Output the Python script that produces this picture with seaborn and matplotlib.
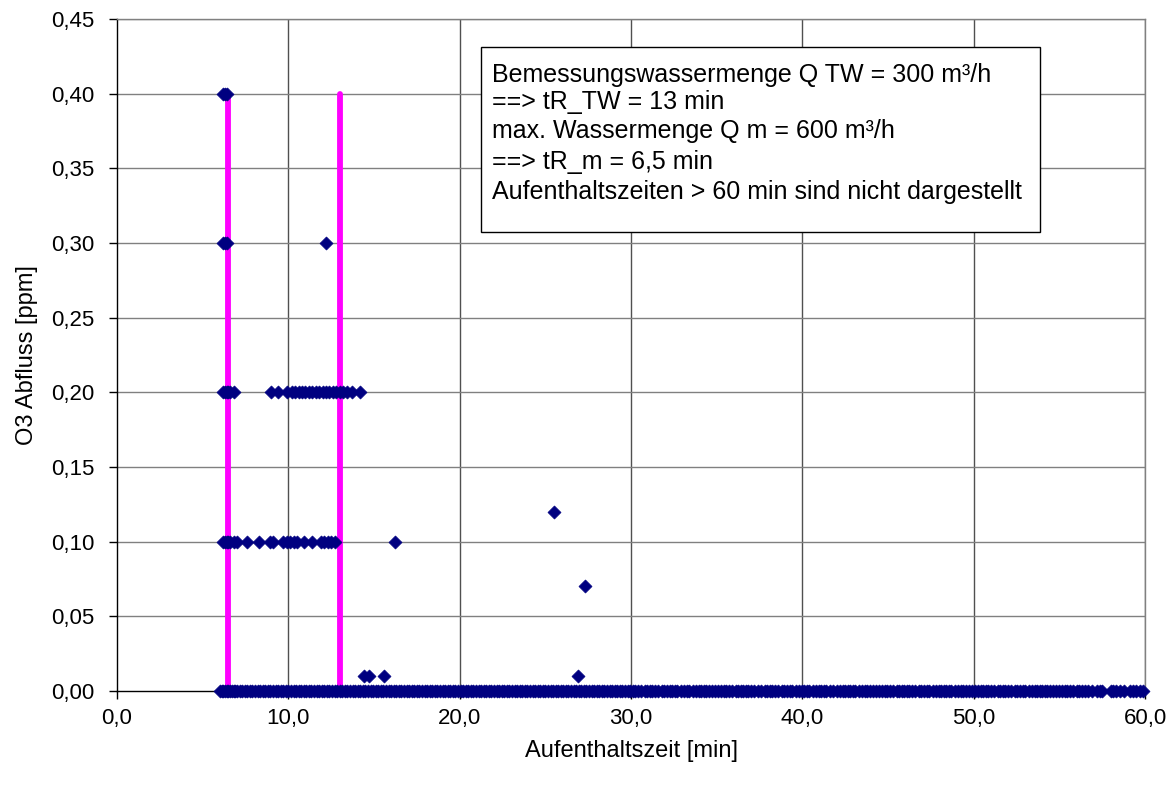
import matplotlib
matplotlib.use("Agg")
import matplotlib.pyplot as plt
from matplotlib.patches import Rectangle
import seaborn as sns
import pandas as pd

# ---- data ----
x_040 = [6.2, 6.3, 6.4]
x_030 = [6.2, 6.3, 6.4, 12.2]
x_020 = [6.2, 6.3, 6.4, 6.5, 6.6, 6.8, 9.0, 9.4, 9.9, 10.2, 10.4, 10.6, 10.8,
         11.0, 11.2, 11.4, 11.6, 11.8, 12.0, 12.2, 12.4, 12.6, 12.8, 13.0,
         13.2, 13.4, 13.7, 14.2]
x_010 = [6.2, 6.3, 6.4, 6.5, 6.6, 6.8, 7.0, 7.6, 8.3, 8.9, 9.1, 9.7, 9.9,
         10.1, 10.3, 10.5, 10.9, 11.4, 11.9, 12.1, 12.3, 12.5, 12.7, 16.2]
x_012 = [25.5]
x_007 = [27.3]
x_001 = [14.4, 14.7, 15.6, 26.9]
x_000 = [6.0, 6.2, 6.4, 6.6, 6.8, 7.0, 7.3, 7.6, 7.9, 8.2, 8.5, 8.8, 9.1, 9.4,
         9.7, 10.0, 10.3, 10.6, 10.9, 11.2, 11.5, 11.8, 12.1, 12.4, 12.7, 13.0,
         13.3, 13.6, 13.9, 14.2, 14.5, 14.8, 15.1, 15.4, 15.7, 16.0, 16.3, 16.6,
         16.9, 17.2, 17.5, 17.8, 18.1, 18.4, 18.7, 19.0, 19.3, 19.6, 19.9, 20.2,
         20.5, 20.8, 21.1, 21.4, 21.7, 22.0, 22.3, 22.6, 22.9, 23.2, 23.5, 23.8,
         24.1, 24.4, 24.7, 25.0, 25.3, 25.6, 25.9, 26.2, 26.5, 26.8, 27.1, 27.4,
         27.7, 28.0, 28.3, 28.6, 28.9, 29.2, 29.5, 29.8, 30.1, 30.4, 30.8, 31.1,
         31.4, 31.8, 32.1, 32.4, 32.7, 33.1, 33.4, 33.8, 34.1, 34.4, 34.7, 35.1,
         35.4, 35.7, 36.1, 36.4, 36.7, 37.0, 37.4, 37.8, 38.1, 38.4, 38.8, 39.1,
         39.4, 39.8, 40.1, 40.4, 40.8, 41.1, 41.4, 41.8, 42.2, 42.5, 42.8, 43.1,
         43.5, 43.8, 44.1, 44.5, 44.8, 45.1, 45.5, 45.8, 46.1, 46.4, 46.8, 47.1,
         47.4, 47.8, 48.1, 48.4, 48.7, 49.1, 49.4, 49.7, 50.1, 50.4, 50.7, 51.0,
         51.4, 51.7, 52.0, 52.4, 52.7, 53.0, 53.4, 53.7, 54.0, 54.3, 54.6, 55.0,
         55.3, 55.6, 56.0, 56.3, 56.7, 57.2, 57.5, 58.0, 58.3, 58.8, 59.1, 59.5,
         59.9]
x_000b = [6.1, 6.3, 6.5, 6.7, 6.9, 7.15, 7.45, 7.75, 8.05, 8.35, 8.65, 8.95,
          9.25, 9.55, 9.85, 10.15, 10.45, 10.75, 11.05, 11.35, 11.65, 11.95,
          12.25, 12.55, 12.85, 13.15, 13.45, 13.75, 14.05, 14.35, 14.65, 14.95,
          15.25, 15.55, 15.85, 16.15, 16.45, 16.75, 17.05, 17.35, 17.65, 17.95,
          18.25, 18.55, 18.85, 19.15, 19.45, 19.75, 20.05, 20.35, 20.65, 20.95,
          21.25, 21.55, 21.85, 22.15, 22.45, 22.75, 23.05, 23.35, 23.65, 23.95,
          24.25, 24.55, 24.85, 25.15, 25.45, 25.75, 26.05, 26.35, 26.65, 26.95,
          27.25, 27.55, 27.85, 28.15, 28.45, 28.75, 29.05, 29.35, 29.65, 29.95,
          30.25, 30.6, 30.95, 31.25, 31.6, 31.95, 32.25, 32.55, 32.9, 33.25,
          33.6, 33.95, 34.25, 34.55, 34.9, 35.25, 35.55, 35.9, 36.25, 36.55,
          36.85, 37.2, 37.6, 37.95, 38.25, 38.6, 38.95, 39.25, 39.6, 39.95,
          40.25, 40.6, 40.95, 41.25, 41.6, 42.0, 42.35, 42.65, 42.95, 43.3,
          43.65, 43.95, 44.3, 44.65, 44.95, 45.3, 45.65, 45.95, 46.25, 46.6,
          46.95, 47.25, 47.6, 47.95, 48.25, 48.55, 48.9, 49.25, 49.55, 49.9,
          50.25, 50.55, 50.85, 51.2, 51.55, 51.85, 52.2, 52.55, 52.85, 53.2,
          53.55, 53.85, 54.15, 54.45, 54.8, 55.15, 55.45, 55.8, 56.15, 56.5,
          56.9, 57.35, 58.15, 58.55, 59.3, 59.7]

level_values = [0.40, 0.30, 0.20, 0.10, 0.12, 0.07, 0.01, 0.00, 0.00]
level_xs = [x_040, x_030, x_020, x_010, x_012, x_007, x_001, x_000, x_000b]

# residence-time reference lines (tR_m = 6.5 min, tR_TW = 13 min)
ref_x = [6.5, 13.0]
ref_top = 0.40

x_ticks = [0, 10, 20, 30, 40, 50, 60]
y_ticks = [0.00, 0.05, 0.10, 0.15, 0.20, 0.25, 0.30, 0.35, 0.40, 0.45]

box_lines = [
    "Bemessungswassermenge Q TW = 300 m³/h",
    "==> tR_TW = 13 min",
    "max. Wassermenge Q m = 600 m³/h",
    "==> tR_m = 6,5 min",
    "Aufenthaltszeiten > 60 min sind nicht dargestellt",
]

# ---- build tables ----
rows = []
for yv, xs in zip(level_values, level_xs):
    for xv in xs:
        rows.append({"t": xv, "o3": yv})
points = pd.DataFrame(rows)

ref_rows = []
for i, xv in enumerate(ref_x):
    ref_rows.append({"t": xv, "o3": 0.0, "line": i})
    ref_rows.append({"t": xv, "o3": ref_top, "line": i})
ref = pd.DataFrame(ref_rows)

# ---- plot ----
sns.set_theme(style="white")
plt.rcParams["font.family"] = ["Liberation Sans", "DejaVu Sans"]
plt.rcParams["text.color"] = "black"
plt.rcParams["axes.labelcolor"] = "black"
plt.rcParams["xtick.color"] = "black"
plt.rcParams["ytick.color"] = "black"

fig = plt.figure(figsize=(11.75, 7.85), dpi=100)
ax = fig.add_axes([0.0996, 0.1198, 0.8749, 0.856])

grid_c = "#808080"
for xv in x_ticks[1:]:
    ax.axvline(xv, color="#505050", lw=1.0, zorder=0)
for yv in y_ticks[1:]:
    ax.axhline(yv, color=grid_c, lw=1.0, zorder=0)

sns.lineplot(data=ref, x="t", y="o3", units="line", estimator=None,
             color="#FF00FF", lw=4.2, ax=ax, zorder=2, legend=False)
sns.scatterplot(data=points, x="t", y="o3", marker="D", s=44,
                color="#000080", edgecolor="#000080", linewidth=0.5,
                ax=ax, zorder=3, legend=False, clip_on=False)

ax.set_xlim(0, 60)
ax.set_ylim(0, 0.45)
ax.set_xticks(x_ticks)
ax.set_yticks(y_ticks)
ax.set_xticklabels([f"{v:.1f}".replace(".", ",") for v in x_ticks])
ax.set_yticklabels([f"{v:.2f}".replace(".", ",") for v in y_ticks])
ax.tick_params(axis="x", direction="out", length=6, width=1,
               color="black", labelsize=16, pad=6)
ax.tick_params(axis="y", direction="out", length=6, width=1,
               color="black", labelsize=16, pad=10)
ax.xaxis.set_ticks_position("bottom")
ax.yaxis.set_ticks_position("left")
for s in ["left", "bottom"]:
    ax.spines[s].set_color("black")
    ax.spines[s].set_linewidth(1)
for s in ["top", "right"]:
    ax.spines[s].set_color(grid_c)
    ax.spines[s].set_linewidth(1)

ax.set_xlabel("Aufenthaltszeit [min]", fontsize=17, labelpad=8)
ax.set_ylabel("O3 Abfluss [ppm]", fontsize=17, labelpad=10)

# annotation box
ax.add_patch(Rectangle((0.354, 0.683), 0.544, 0.275, transform=ax.transAxes,
                       facecolor="white", edgecolor="black", lw=1, zorder=5))
line_y = [0.917, 0.876, 0.834, 0.787, 0.743]
for txt, yy in zip(box_lines, line_y):
    ax.text(0.365, yy, txt, transform=ax.transAxes, fontsize=18,
            va="center", ha="left", zorder=6, color="black")

fig.savefig("out.png", dpi=100)
